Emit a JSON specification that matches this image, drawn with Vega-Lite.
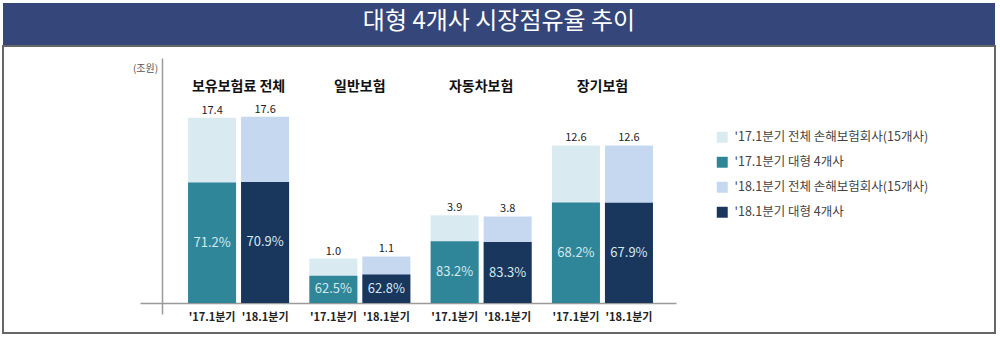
{
  "$schema": "https://vega.github.io/schema/vega-lite/v6.json",
  "padding": {"left": 2, "top": 3, "right": 4, "bottom": 6},
  "spacing": 0,
  "config": {"font": "Noto Sans CJK KR"},
  "vconcat": [
    {
      "width": 992,
      "height": 42,
      "view": {"fill": "#34467a", "stroke": null},
      "data": {"values": [{"title": "대형 4개사 시장점유율 추이"}]},
      "mark": {"type": "text", "color": "white", "fontSize": 24, "font": "Noto Sans CJK KR", "baseline": "middle", "dy": -2},
      "encoding": {"text": {"field": "title", "type": "nominal"}}
    },
    {
      "width": 992,
      "height": 287,
      "view": {"fill": "white", "stroke": "#666666", "strokeWidth": 2},
      "data": {
        "values": [
          {"group": "보유보험료 전체", "period": "'17.1분기", "total": 17.4, "big4": 12.39, "pct": 0.712, "totalSeries": "'17.1분기 전체 손해보험회사(15개사)", "big4Series": "'17.1분기 대형 4개사"},
          {"group": "보유보험료 전체", "period": "'18.1분기", "total": 17.6, "big4": 12.48, "pct": 0.709, "totalSeries": "'18.1분기 전체 손해보험회사(15개사)", "big4Series": "'18.1분기 대형 4개사"},
          {"group": "일반보험", "period": "'17.1분기", "total": 1.0, "big4": 0.63, "pct": 0.625, "totalSeries": "'17.1분기 전체 손해보험회사(15개사)", "big4Series": "'17.1분기 대형 4개사"},
          {"group": "일반보험", "period": "'18.1분기", "total": 1.1, "big4": 0.69, "pct": 0.628, "totalSeries": "'18.1분기 전체 손해보험회사(15개사)", "big4Series": "'18.1분기 대형 4개사"},
          {"group": "자동차보험", "period": "'17.1분기", "total": 3.9, "big4": 3.24, "pct": 0.832, "totalSeries": "'17.1분기 전체 손해보험회사(15개사)", "big4Series": "'17.1분기 대형 4개사"},
          {"group": "자동차보험", "period": "'18.1분기", "total": 3.8, "big4": 3.17, "pct": 0.833, "totalSeries": "'18.1분기 전체 손해보험회사(15개사)", "big4Series": "'18.1분기 대형 4개사"},
          {"group": "장기보험", "period": "'17.1분기", "total": 12.6, "big4": 8.59, "pct": 0.682, "totalSeries": "'17.1분기 전체 손해보험회사(15개사)", "big4Series": "'17.1분기 대형 4개사"},
          {"group": "장기보험", "period": "'18.1분기", "total": 12.6, "big4": 8.56, "pct": 0.679, "totalSeries": "'18.1분기 전체 손해보험회사(15개사)", "big4Series": "'18.1분기 대형 4개사"}
        ]
      },
      "encoding": {
        "x": {
          "field": "group", "type": "nominal",
          "sort": ["보유보험료 전체", "일반보험", "자동차보험", "장기보험"],
          "scale": {"range": [137, 673], "paddingInner": 0.167, "paddingOuter": 0.293, "align": 0.676},
          "axis": null
        },
        "xOffset": {
          "field": "period", "type": "nominal",
          "sort": ["'17.1분기", "'18.1분기"],
          "scale": {"paddingInner": 0.094, "paddingOuter": 0}
        }
      },
      "layer": [
        {
          "mark": {"type": "bar"},
          "encoding": {
            "x": {
              "field": "group", "type": "nominal",
              "sort": ["보유보험료 전체", "일반보험", "자동차보험", "장기보험"],
              "axis": {"orient": "bottom", "offset": -30, "domain": true, "domainColor": "#9a9a9a", "domainWidth": 1.5, "labels": false, "ticks": false, "title": null, "grid": false}
            },
            "y": {"field": "total", "type": "quantitative", "scale": {"type": "sqrt", "domain": [0, 25], "range": [257, 35]}, "axis": null},
            "color": {
              "field": "totalSeries", "type": "nominal",
              "scale": {
                "domain": ["'17.1분기 전체 손해보험회사(15개사)", "'17.1분기 대형 4개사", "'18.1분기 전체 손해보험회사(15개사)", "'18.1분기 대형 4개사"],
                "range": ["#d9ebf1", "#2f8698", "#c6d8ef", "#19365d"]
              },
              "legend": {
                "orient": "none", "legendX": 713, "legendY": 128, "title": null,
                "symbolType": "square", "symbolSize": 120, "symbolStrokeWidth": 0,
                "labelFontSize": 12.5, "labelColor": "#444444", "labelFont": "Noto Sans CJK KR", "labelLimit": 400,
                "rowPadding": 12, "labelOffset": 6, "padding": 0
              }
            }
          }
        },
        {
          "mark": {"type": "bar"},
          "encoding": {
            "y": {"field": "big4", "type": "quantitative", "scale": {"type": "sqrt", "domain": [0, 42], "range": [257, 35]}, "axis": null},
            "color": {"field": "big4Series", "type": "nominal"}
          }
        },
        {
          "mark": {"type": "text", "baseline": "bottom", "dy": -2, "fontSize": 11, "color": "#222222"},
          "encoding": {
            "y": {"field": "total", "type": "quantitative", "scale": {"type": "sqrt", "domain": [0, 25], "range": [257, 35]}, "axis": null},
            "text": {"field": "total", "type": "quantitative", "format": ".1f"}
          }
        },
        {
          "mark": {"type": "text", "baseline": "middle", "fontSize": 13, "color": "#d3e9ef"},
          "encoding": {
            "y": {"field": "big4", "type": "quantitative", "scale": {"type": "sqrt", "domain": [0, 168], "range": [257, 35]}, "axis": null},
            "text": {"field": "pct", "type": "quantitative", "format": ".1%"}
          }
        },
        {
          "mark": {"type": "text", "baseline": "middle", "dy": 4, "fontSize": 11, "fontWeight": "bold", "color": "#222222"},
          "encoding": {
            "x": {
              "field": "group", "type": "nominal",
              "sort": ["보유보험료 전체", "일반보험", "자동차보험", "장기보험"],
              "axis": {"orient": "top", "domain": false, "ticks": false, "tickSize": 0, "labelAngle": 0, "labelPadding": -40, "labelBaseline": "middle", "labelFontSize": 14, "labelFontWeight": "bold", "labelColor": "#111111", "labelFont": "Noto Sans CJK KR", "labelLimit": 300, "title": null, "grid": false}
            },
            "y": {
              "datum": 0, "type": "quantitative",
              "scale": {"type": "linear", "domain": [0, 1], "range": [268, 12]},
              "axis": {"orient": "left", "offset": -159, "domain": true, "domainColor": "#9a9a9a", "domainWidth": 1.5, "labels": false, "ticks": false, "grid": false,
                "title": "(조원)", "titleAngle": 0, "titleX": -17, "titleY": 22, "titleAlign": "center", "titleBaseline": "middle", "titleFontSize": 10, "titleFontWeight": "normal", "titleColor": "#555555"}
            },
            "text": {"field": "period", "type": "nominal"}
          }
        }
      ],
      "resolve": {"scale": {"y": "independent"}, "axis": {"x": "independent", "y": "independent"}}
    }
  ]
}
